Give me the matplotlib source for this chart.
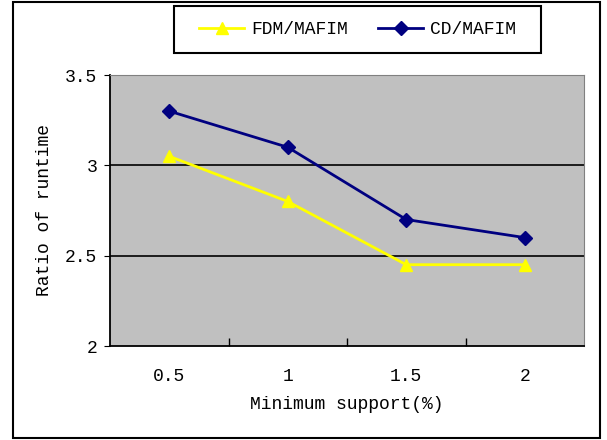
import numpy as np
import matplotlib.pyplot as plt
from matplotlib.patches import Rectangle

# data
support = ["0.5", "1", "1.5", "2"]
fdm_mafim = [3.05, 2.8, 2.45, 2.45]
cd_mafim = [3.3, 3.1, 2.7, 2.6]

plt.rcParams['font.family'] = ['Liberation Mono', 'DejaVu Sans']

W, H = 607, 440
fig = plt.figure(figsize=(W / 100, H / 100), dpi=100)

# outer frame
fig.patches.append(Rectangle((13 / W, 2 / H), 587 / W, 436 / H, transform=fig.transFigure,
                             fill=False, edgecolor='black', linewidth=1.5))
# legend frame
fig.patches.append(Rectangle((174 / W, 1 - 53 / H), 367 / W, 47 / H, transform=fig.transFigure,
                             fill=False, edgecolor='black', linewidth=1.5))

ax = fig.add_axes([110 / W, 1 - 346 / H, 474 / W, 271 / H])
ax.set_facecolor('#C0C0C0')

x = np.arange(len(support))
ax.plot(x, fdm_mafim, color='#FFFF00', marker='^', markersize=9, linewidth=2, label='FDM/MAFIM')
ax.plot(x, cd_mafim, color='#000080', marker='D', markersize=7, linewidth=2, label='CD/MAFIM')

ax.set_xlim(-0.5, 3.5)
ax.set_ylim(2, 3.5)
ax.set_yticks([2, 2.5, 3, 3.5])
ax.set_yticklabels(['2', '2.5', '3', '3.5'])
ax.set_xticks(x)
ax.set_xticklabels(support)
ax.set_xticks([0.5, 1.5, 2.5], minor=True)
ax.tick_params(axis='x', which='major', length=0, pad=16, labelsize=13)
ax.tick_params(axis='x', which='minor', length=6, direction='in', width=1)
ax.tick_params(axis='y', length=4, direction='out', pad=5, labelsize=13)
for yv in [2.5, 3.0]:
    ax.axhline(yv, color='black', linewidth=1.2, zorder=1)

ax.spines['top'].set_color('#808080')
ax.spines['right'].set_color('#808080')
ax.spines['left'].set_linewidth(1.3)
ax.spines['bottom'].set_linewidth(1.3)

ax.set_xlabel('Minimum support(%)', fontsize=13, labelpad=8)
ax.set_ylabel('Ratio of runtime', fontsize=13, labelpad=9)

fig.legend(loc='center', bbox_to_anchor=(357.5 / W, 1 - 29.5 / H), ncol=2, fontsize=13,
           frameon=False, handlelength=2.5, handletextpad=0.35, columnspacing=1.7)

fig.savefig('out.png', dpi=100)
